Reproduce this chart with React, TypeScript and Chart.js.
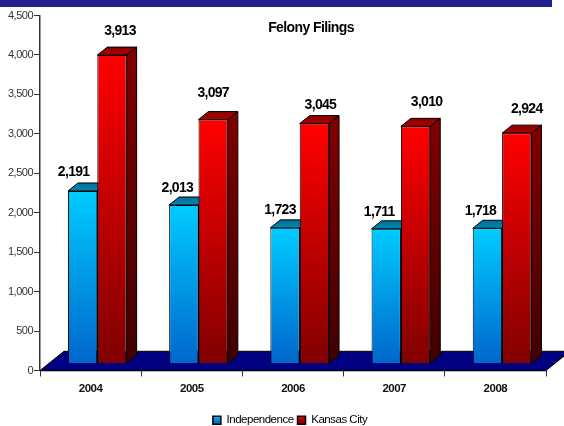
import React, { useEffect, useRef } from "react";
import { Chart, registerables } from "chart.js";

Chart.register(...registerables);

const years = ["2004", "2005", "2006", "2007", "2008"];
const independence = [2191, 2013, 1723, 1711, 1718];
const kansasCity = [3913, 3097, 3045, 3010, 2924];
const titleText = "Felony Filings";
const seriesNames = ["Independence", "Kansas City"];

// Hand-placed value label nudges relative to each bar's front top centre
const labelNudge = [
  [[-9, -19], [-6.5, -17], [-5, -18], [-7, -17], [-7, -17.5]],
  [[8, -24], [0, -26.6], [6, -18], [11, -24.5], [10, -24]],
];

const FONT = '"Liberation Sans", Arial, sans-serif';
const SHIFT_X = 6.7, SHIFT_Y = -6.7;
const DEPTH_X = 10, DEPTH_Y = -8;
const FLOOR_X = 24, FLOOR_Y = -19.2;
const LEGEND_SHIFT = 17;

const palette = [
  { front: ["#00CCFF", "#0066CC"], side: ["#006699", "#003366"], top: ["#006f99", "#0088b0"] },
  { front: ["#FF0000", "#800000"], side: ["#800000", "#400000"], top: ["#880000", "#aa0000"] },
];

const vGrad = (c: CanvasRenderingContext2D, y0: number, y1: number, cols: string[]) => {
  const g = c.createLinearGradient(0, y0, 0, y1);
  g.addColorStop(0, cols[0]);
  g.addColorStop(1, cols[1]);
  return g;
};

const poly = (c: CanvasRenderingContext2D, pts: number[][], fill: any, stroke = "#000", lw = 1) => {
  c.beginPath();
  pts.forEach(([x, y], i) => (i ? c.lineTo(x, y) : c.moveTo(x, y)));
  c.closePath();
  c.fillStyle = fill;
  c.fill();
  c.lineWidth = lw;
  c.strokeStyle = stroke;
  c.stroke();
};

const narrow = (chart: any) => {
  chart.ctx.letterSpacing = "-0.5px";
};

const bars3d = {
  id: "bars3d",
  beforeUpdate: narrow,
  beforeLayout: narrow,
  beforeDraw: narrow,
  afterLayout(chart: any) {
    chart.legend.left += LEGEND_SHIFT;
    chart.legend.right += LEGEND_SHIFT;
  },
  beforeDatasetsDraw(chart: any) {
    const { ctx, chartArea: a } = chart;
    ctx.save();
    poly(ctx, [
      [a.left, a.bottom],
      [a.left + FLOOR_X, a.bottom + FLOOR_Y],
      [a.right + FLOOR_X, a.bottom + FLOOR_Y],
      [a.right, a.bottom],
    ], "#000080");
    ctx.beginPath();
    ctx.moveTo(a.left, a.bottom);
    ctx.lineTo(a.right, a.bottom);
    ctx.lineWidth = 1.5;
    ctx.strokeStyle = "#000";
    ctx.stroke();
    ctx.restore();

    chart.data.datasets.forEach((_: any, i: number) => {
      const meta = chart.getDatasetMeta(i);
      const p = palette[i];
      ctx.save();
      ctx.translate(SHIFT_X, SHIFT_Y);
      meta.data.forEach((bar: any) => {
        const left = bar.x - bar.width / 2;
        const right = bar.x + bar.width / 2;
        const top = bar.y;
        const base = bar.base;
        poly(ctx, [
          [right, top],
          [right + DEPTH_X, top + DEPTH_Y],
          [right + DEPTH_X, base + DEPTH_Y],
          [right, base],
        ], vGrad(ctx, top, base, p.side));
        poly(ctx, [
          [left, top],
          [left + DEPTH_X, top + DEPTH_Y],
          [right + DEPTH_X, top + DEPTH_Y],
          [right, top],
        ], vGrad(ctx, top + DEPTH_Y, top, p.top));
      });
      meta.controller.draw();
      ctx.restore();
    });

    ctx.save();
    ctx.textAlign = "center";
    ctx.textBaseline = "middle";
    ctx.fillStyle = "#000";
    ctx.font = `bold 14px ${FONT}`;
    ctx.letterSpacing = "-0.7px";
    chart.data.datasets.forEach((ds: any, i: number) => {
      chart.getDatasetMeta(i).data.forEach((bar: any, j: number) => {
        const [dx, dy] = labelNudge[i][j];
        ctx.fillText(
          ds.data[j].toLocaleString("en-US"),
          bar.x + SHIFT_X + dx,
          bar.y + SHIFT_Y + dy
        );
      });
    });
    ctx.letterSpacing = "-0.6px";
    ctx.fillText(titleText, 311, 28);
    ctx.restore();
    return false;
  },
};

const barFill = (i: number) => (c: any) => {
  const scale = c.chart.scales?.y;
  if (!scale || c.parsed == null) return palette[i].front[0];
  return vGrad(
    c.chart.ctx,
    scale.getPixelForValue(c.parsed.y),
    scale.getPixelForValue(0),
    palette[i].front
  );
};

export default function App() {
  const ref = useRef<HTMLCanvasElement>(null);
  useEffect(() => {
    const chart = new Chart(ref.current!, {
      type: "bar",
      plugins: [bars3d],
      data: {
        labels: years,
        datasets: [
          { label: seriesNames[0], data: independence, backgroundColor: barFill(0) },
          { label: seriesNames[1], data: kansasCity, backgroundColor: barFill(1) },
        ],
      } as any,
      options: {
        responsive: false,
        animation: false,
        layout: { padding: { left: 0, right: 18, top: 15.5, bottom: -10 } },
        datasets: {
          bar: {
            categoryPercentage: 0.58,
            barPercentage: 1,
            borderColor: "#000",
            borderWidth: 1,
          },
        },
        scales: {
          x: {
            afterFit: (s: any) => { s.height = 40; },
            grid: { drawOnChartArea: false, drawTicks: true, tickLength: 6, color: "#333", offset: true },
            border: { color: "#333", width: 1 },
            ticks: {
              color: "#111",
              font: { family: FONT, size: 11.5, weight: "bold" },
              padding: 5,
              maxRotation: 0,
            },
          },
          y: {
            min: 0,
            max: 4500,
            afterFit: (s: any) => { s.width = 40; },
            grid: { drawOnChartArea: false, drawTicks: true, tickLength: 6, color: "#333" },
            border: { color: "#333", width: 1.5 },
            ticks: {
              stepSize: 500,
              color: "#333",
              font: { family: FONT, size: 11 },
              padding: 1,
              callback: (v: any) => Number(v).toLocaleString("en-US"),
            },
          },
        },
        plugins: {
          title: { display: false },
          tooltip: { enabled: false },
          legend: {
            position: "bottom",
            labels: {
              boxWidth: 8,
              boxHeight: 8,
              padding: 4,
              color: "#333",
              font: { family: FONT, size: 11.5 },
              generateLabels: (ch: any) =>
                ch.data.datasets.map((d: any, i: number) => ({
                  text: d.label,
                  datasetIndex: i,
                  fillStyle: vGrad(ch.ctx, 415, 423, palette[i].front),
                  strokeStyle: "#000",
                  lineWidth: 1.5,
                })),
            },
          },
        },
      },
    } as any);
    return () => chart.destroy();
  }, []);
  return (
    <div style={{ position: "absolute", left: 0, top: 0, width: 564, height: 426, background: "#fff", overflow: "hidden" }}>
      <div style={{ position: "absolute", left: 0, top: 0, width: 552, height: 7, background: "#231F8F" }} />
      <canvas ref={ref} width={564} height={426} style={{ position: "absolute", left: 0, top: 0, display: "block" }} />
    </div>
  );
}
